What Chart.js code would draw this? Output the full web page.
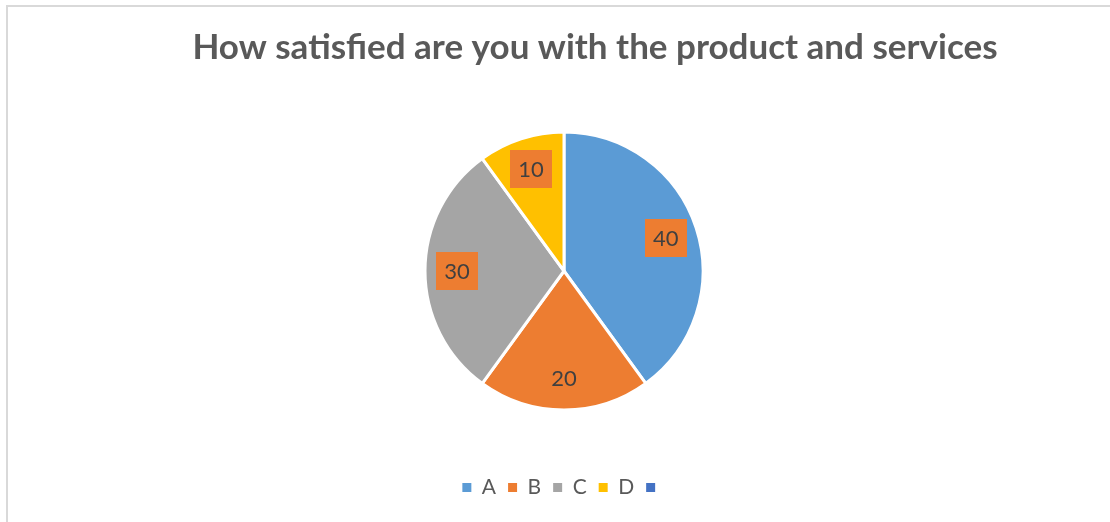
<!DOCTYPE html>
<html>
<head>
<meta charset="utf-8">
<title>Satisfaction pie</title>
<script src="https://cdn.jsdelivr.net/npm/chart.js@4/dist/chart.umd.min.js"></script>
<style>
  html, body { margin: 0; padding: 0; background: #fff; overflow: hidden; }
  #wrap { position: relative; width: 1110px; height: 522px; }
  #frame { position: absolute; left: 6px; top: 5px; width: 1200px; height: 600px; border: 2px solid #d9d9d9; box-sizing: border-box; pointer-events: none; }
</style>
</head>
<body>
<div id="wrap">
  <canvas id="satisfactionChart" width="1110" height="522"></canvas>
  <div id="frame"></div>
</div>
<script>
// Chart data
const chartTitle = 'How satisfied are you with the product and services';
const categories = ['A', 'B', 'C', 'D', ''];
const responses = [40, 20, 30, 10, 0];
const sliceColors = ['#5B9BD5', '#ED7D31', '#A5A5A5', '#FFC000', '#4472C4'];

const FONT = 'Lato, "Open Sans", sans-serif';

// Title drawn by hand so it can sit off the pie's centre line
const titlePlugin = {
  id: 'offsetTitle',
  afterDraw(chart) {
    const ctx = chart.ctx;
    ctx.save();
    ctx.font = 'bold 35px ' + FONT;
    ctx.fillStyle = '#595959';
    ctx.textAlign = 'center';
    ctx.textBaseline = 'middle';
    ctx.fillText(chartTitle, 595, 48);
    ctx.restore();
  }
};

// Value labels in orange boxes, placed along each slice's middle angle
const valueLabels = {
  id: 'valueLabels',
  afterDatasetsDraw(chart) {
    const ctx = chart.ctx;
    const meta = chart.getDatasetMeta(0);
    ctx.save();
    ctx.font = '22px ' + FONT;
    ctx.textAlign = 'center';
    ctx.textBaseline = 'middle';
    meta.data.forEach((arc, i) => {
      const value = responses[i];
      if (!value) return;
      const p = arc.getProps(['x', 'y', 'startAngle', 'endAngle', 'outerRadius'], true);
      const mid = (p.startAngle + p.endAngle) / 2;
      const r = p.outerRadius * 0.77;
      const x = p.x + Math.cos(mid) * r;
      const y = p.y + Math.sin(mid) * r;
      const text = String(value);
      const w = ctx.measureText(text).width + 16;
      const h = 38;
      ctx.fillStyle = '#ED7D31';
      ctx.fillRect(Math.round(x - w / 2), Math.round(y - h / 2), Math.round(w), h);
      ctx.fillStyle = '#404040';
      ctx.fillText(text, x, y + 1);
    });
    ctx.restore();
  }
};

const ctx = document.getElementById('satisfactionChart');
new Chart(ctx, {
  type: 'pie',
  data: {
    labels: categories,
    datasets: [{
      data: responses,
      backgroundColor: sliceColors,
      borderColor: '#ffffff',
      borderWidth: responses.map(v => (v ? 3 : 0)),
      radius: 139
    }]
  },
  options: {
    responsive: false,
    animation: false,
    layout: {
      padding: { top: 77, left: 18, right: 0, bottom: 14 }
    },
    plugins: {
      title: { display: false },
      tooltip: { enabled: false },
      legend: {
        position: 'bottom',
        labels: {
          boxWidth: 9,
          boxHeight: 9,
          padding: 12,
          color: '#595959',
          font: { family: FONT, size: 21 },
          // plain filled squares, without the white slice border
          generateLabels(chart) {
            const items = Chart.controllers.pie.overrides.plugins.legend.labels.generateLabels(chart);
            items.forEach(item => {
              item.lineWidth = 0;
              item.strokeStyle = item.fillStyle;
            });
            return items;
          }
        }
      }
    }
  },
  plugins: [titlePlugin, valueLabels]
});
</script>
</body>
</html>
